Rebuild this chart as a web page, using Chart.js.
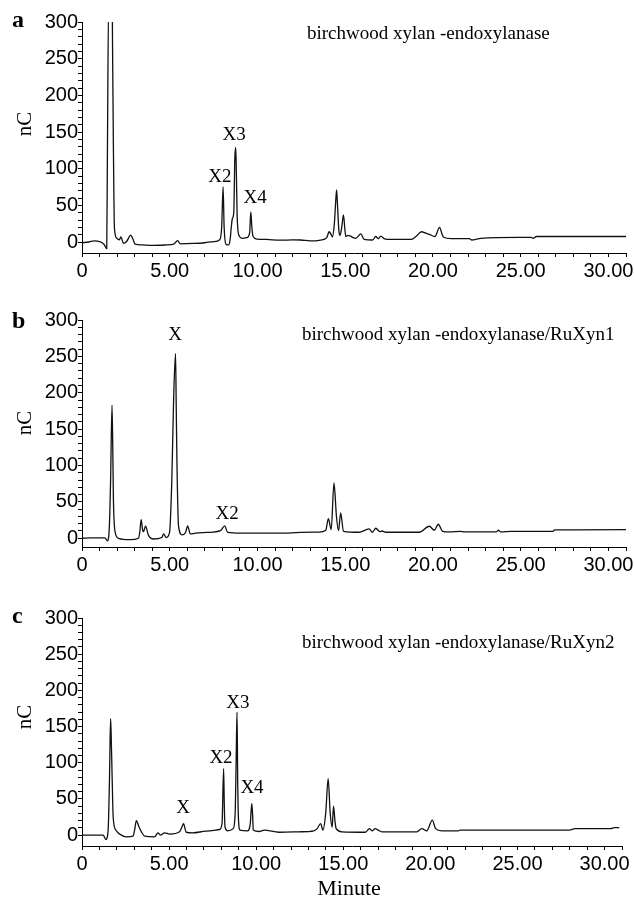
<!DOCTYPE html>
<html><head><meta charset="utf-8">
<script src="https://cdn.jsdelivr.net/npm/chart.js@4"></script>
<style>
html,body{margin:0;padding:0;background:#fff;}
#wrap{position:relative;width:634px;height:900px;overflow:hidden;background:#fff;}
canvas{position:absolute;left:0;}
</style></head><body><div id="wrap">
<canvas id="ca" width="634" height="290" style="top:0;width:634px;height:290px"></canvas>
<canvas id="cb" width="634" height="290" style="top:290px;width:634px;height:290px"></canvas>
<canvas id="cc" width="634" height="320" style="top:580px;width:634px;height:320px"></canvas>
</div>
<script>
// ---- data (retention time in minutes, detector signal in nC) ----
const xLabelTicks = [0, 5, 10, 15, 20, 25, 30];
const yLabelTicks = [0, 50, 100, 150, 200, 250, 300];

const timeA = [0,0.4,0.7,1.0,1.25,1.41,1.45,1.52,1.72,1.74,1.79,1.85,1.99,2.13,2.21,2.37,2.55,2.78,2.9,3.03,3.4,4.0,4.8,5.22,5.45,5.6,6.38,7.0,7.5,7.85,7.96,8.04,8.1,8.2,8.35,8.45,8.5,8.57,8.65,8.71,8.76,8.8,8.84,8.93,9.12,9.4,9.55,9.62,9.68,9.75,9.98,10.5,11.3,12.0,12.46,13.0,13.6,13.95,14.08,14.2,14.27,14.38,14.47,14.51,14.56,14.64,14.7,14.8,14.9,14.97,15.03,15.15,15.3,15.45,15.6,15.89,16.08,16.56,16.74,16.88,17.03,17.22,17.41,18.74,19.03,19.35,19.6,19.79,20.11,20.38,20.5,20.61,21.03,22.07,22.2,22.73,24.84,25.6,25.7,25.9,28.0,31.0];
const signalA = [-1,0,1.5,0.5,-3,-9,128,330,330,269,128,18,5,3,7,-2,1,9.5,4,-3,-4,-4.5,-4,-3,2,-2.5,-2,-1,0.5,3,20,75,20,-3,-4,5,18.6,32,41,115,129,90,37,10,5,6,12,41,20,7.5,4,3.5,2.5,2.8,2.7,1.5,2.7,6,14,10,7,25,60,71,50,15,9,20,37,20,7.5,9,8,6,5,11,3.5,2.7,7.5,4.5,8,4.5,3.5,3.5,7.5,14,12,10.5,7.5,20,12,6.4,4.5,4.5,2.7,5,6.4,6.4,5,7.5,7.5,7.5];

const timeB = [0,0.5,1.31,1.45,1.56,1.63,1.71,1.75,1.79,1.89,2.08,2.74,3.22,3.3,3.37,3.45,3.5,3.62,3.79,4.08,4.55,4.65,4.8,4.99,5.12,5.22,5.33,5.37,5.41,5.5,5.7,5.9,6.02,6.17,6.46,7.12,7.89,8.13,8.3,9.03,11.3,12.46,13.5,13.89,14.04,14.2,14.36,14.5,14.62,14.74,14.9,15.79,16.36,16.55,16.74,16.99,17.1,17.3,19.22,19.79,20.08,20.3,20.55,20.93,21.56,21.79,23.6,23.73,23.86,24.46,26.84,26.93,31.0];
const signalB = [0,0.5,0.5,-3.5,17,80,183,130,54,8,0,-2,0,10,25.7,12,9,16.5,4,-1,1,6,1,8,82,190,254,180,105,17,4.6,8,17,6,7,8,10.5,17,8,7,7,8,8.5,11,27,12,76,30,10.5,35,9.6,8.3,12.8,8.3,13.8,9,10,8.3,8.3,16.5,11,19.3,9.6,8.7,9.6,8.7,8.7,11,8.7,9.6,9.6,11.5,12];

const timeC = [0,1.22,1.37,1.5,1.58,1.64,1.67,1.73,1.79,1.94,2.17,2.55,2.93,3.02,3.12,3.27,3.41,3.6,4.17,4.36,4.5,4.74,5.03,5.6,5.75,5.83,5.98,6.36,7.12,7.89,8.04,8.13,8.17,8.21,8.36,8.68,8.8,8.86,8.9,8.94,8.97,9.07,9.5,9.66,9.75,9.8,9.83,10.17,10.46,11.31,12.46,13.31,13.5,13.7,13.83,13.99,14.13,14.25,14.36,14.44,14.52,14.59,14.93,16.27,16.5,16.65,16.84,17.0,17.22,19.22,19.5,19.79,20.11,20.3,20.65,21.6,21.7,22.17,27.98,28.3,30.36,30.55,30.84];
const signalC = [0,0,-6,7,80,161,143,80,25,7,1.4,-2.3,-1.4,7,20,11.5,4.6,-1.4,-2.3,3.2,0,3.2,1.4,4.6,12,16,4,3.2,5.5,7.8,16,92,40,11.5,6,9,34.6,120,170,70,30,7,6,16,44,25,7,5,7,4,4.6,6,9,16,7,30,78,30,11,40,20,9,4.6,4,9,6,9,7,4.6,4.6,9,6,20.7,9,6,6,7,7,7,9,9,10.5,10.5];

const panelLetters = ["a", "b", "c"];
const panelTitles = ["birchwood xylan -endoxylanase", "birchwood xylan -endoxylanase/RuXyn1", "birchwood xylan -endoxylanase/RuXyn2"];

// peak labels: name, label anchor time, label anchor signal
const peakNamesA = ["X2", "X3", "X4"];
const peakTimeA = [7.86, 8.67, 9.87];
const peakSignalA = [82, 139, 53.6];
const peakNamesB = ["X", "X2"];
const peakTimeB = [5.31, 8.27];
const peakSignalB = [272, 27];
const peakNamesC = ["X", "X2", "X3", "X4"];
const peakTimeC = [5.81, 7.98, 8.95, 9.76];
const peakSignalC = [30, 100, 176, 57.6];

const yAxisTitle = "nC";
const xAxisTitle = "Minute";

// ---- drawing ----
const annot = {
  id: 'annot',
  afterDraw(chart, args, o) {
    const ctx = chart.ctx, xs = chart.scales.x, ys = chart.scales.y;
    ctx.save();
    ctx.fillStyle = '#000';
    ctx.textBaseline = 'alphabetic';
    ctx.textAlign = 'left';
    ctx.font = 'bold 24px "Liberation Serif", "Times New Roman", serif';
    ctx.fillText(o.letter, 12, o.letterY);
    ctx.font = '19px "Liberation Serif", "Times New Roman", serif';
    ctx.fillText(o.title, o.titleX, o.titleY);
    ctx.textAlign = 'center';
    o.names.forEach((n, i) => {
      ctx.fillText(n, xs.getPixelForValue(o.times[i]), ys.getPixelForValue(o.signals[i]));
    });
    ctx.save();
    ctx.translate(31, o.ncY);
    ctx.rotate(-Math.PI / 2);
    ctx.font = '21px "Liberation Serif", "Times New Roman", serif';
    ctx.fillText(yAxisTitle, 0, 0);
    ctx.restore();
    if (o.minute) {
      ctx.font = '22px "Liberation Serif", "Times New Roman", serif';
      ctx.fillText(xAxisTitle, 349, o.minuteY);
    }
    ctx.restore();
  }
};

function makeChart(id, times, signals, yMin, pad, ann) {
  const tickFont = { family: '"Liberation Sans", Arial, sans-serif', size: 20 };
  return new Chart(document.getElementById(id), {
    type: 'line',
    data: {
      datasets: [{
        data: times.map((t, i) => ({ x: t, y: signals[i] })),
        borderColor: '#111',
        borderWidth: 1.3,
        pointRadius: 0,
        fill: false,
        cubicInterpolationMode: 'monotone'
      }]
    },
    options: {
      responsive: false,
      animation: false,
      devicePixelRatio: 1,
      layout: { padding: pad },
      plugins: { legend: { display: false }, tooltip: { enabled: false }, annot: ann },
      scales: {
        x: {
          type: 'linear', min: 0, max: 31,
          afterFit: s => { s.height = 30; },
          border: { display: true, color: '#000', width: 1 },
          grid: { drawOnChartArea: false, tickLength: 4, tickColor: '#000', tickWidth: 1 },
          ticks: {
            stepSize: 1, autoSkip: false, maxRotation: 0, padding: 2, color: '#000', font: tickFont,
            callback: v => xLabelTicks.includes(v) ? (v === 0 ? '0' : v.toFixed(2)) : ''
          }
        },
        y: {
          type: 'linear', min: yMin, max: 300,
          afterFit: s => { s.width = 82; },
          border: { display: true, color: '#000', width: 1 },
          grid: {
            drawOnChartArea: false, tickLength: 4, tickWidth: 1,
            tickColor: c => (c.tick && c.tick.value % 10 === 0) ? '#000' : 'rgba(0,0,0,0)'
          },
          ticks: {
            stepSize: 10, autoSkip: false, padding: 0, color: '#000', font: tickFont,
            callback: v => yLabelTicks.includes(v) ? String(v) : ''
          }
        }
      }
    },
    plugins: [annot]
  });
}

makeChart('ca', timeA, signalA, -15, { left: 0, right: 8, top: 22, bottom: 7 },
  { letter: panelLetters[0], letterY: 27, title: panelTitles[0], titleX: 307, titleY: 39, ncY: 124,
    names: peakNamesA, times: peakTimeA, signals: peakSignalA, minute: false });
makeChart('cb', timeB, signalB, -12, { left: 0, right: 8, top: 30, bottom: 3 },
  { letter: panelLetters[1], letterY: 38, title: panelTitles[1], titleX: 302, titleY: 50, ncY: 133,
    names: peakNamesB, times: peakTimeB, signals: peakSignalB, minute: false });
makeChart('cc', timeC, signalC, -15, { left: 0, right: 12, top: 38, bottom: 24 },
  { letter: panelLetters[2], letterY: 43, title: panelTitles[2], titleX: 302, titleY: 68, ncY: 137,
    names: peakNamesC, times: peakTimeC, signals: peakSignalC, minute: true, minuteY: 315 });
</script>
</body></html>
